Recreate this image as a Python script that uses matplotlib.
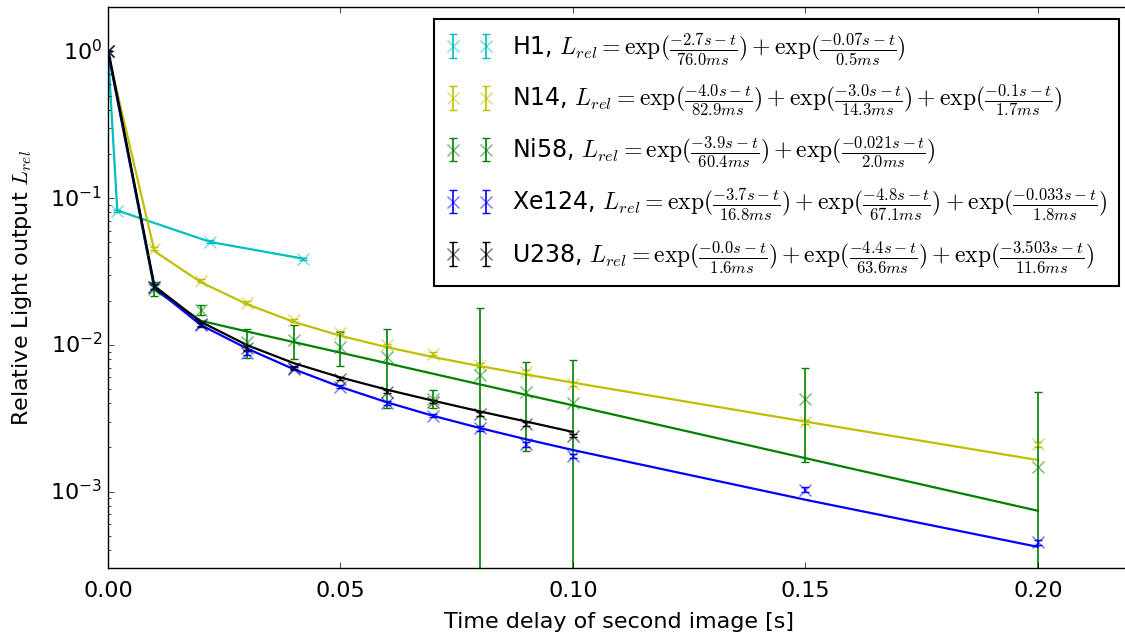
import matplotlib
matplotlib.use("Agg")
import matplotlib.pyplot as plt

plt.style.use("classic")
plt.rcParams["figure.facecolor"] = "white"
plt.rcParams["mathtext.fontset"] = "cm"
plt.rcParams["font.family"] = ["DejaVu Sans"]

# Measurement delays [s]
x_h1 = [0.0, 0.002, 0.022, 0.042]
x_all = [0.0, 0.01, 0.02, 0.03, 0.04, 0.05, 0.06, 0.07, 0.08, 0.09, 0.10, 0.15, 0.20]
x_u = [0.0, 0.01, 0.02, 0.03, 0.04, 0.05, 0.06, 0.07, 0.08, 0.09, 0.10]

# H1
y_h1 = [1.0, 0.082, 0.0505, 0.0385]
e_h1 = [0.0, 0.0015, 0.0010, 0.0008]
fit_h1 = [0.9996, 0.0825, 0.0503, 0.0387]

# N14
y_n14 = [1.0, 0.0453, 0.0274, 0.0194, 0.0147, 0.0121, 0.0100, 0.0087, 0.0073, 0.0065, 0.0054, 0.0030, 0.0021]
e_n14 = [0.0, 0.0010, 0.0006, 0.0004, 0.0003, 0.0003, 0.0002, 0.0002, 0.0002, 0.0002, 0.00015, 0.0001, 0.00008]
fit_n14 = [0.973, 0.0435, 0.0267, 0.01887, 0.01434, 0.01154, 0.00964, 0.00825, 0.00717, 0.00628, 0.00553, 0.00300, 0.00164]

# Ni58
y_ni58 = [1.0, 0.0242, 0.0174, 0.0105, 0.0108, 0.0097, 0.0083, 0.0043, 0.0062, 0.0048, 0.0040, 0.0043, 0.00147]
e_ni58 = [0.0, 0.0028, 0.0014, 0.0024, 0.0028, 0.0025, 0.0046, 0.0006, 0.0117, 0.0029, 0.0039, 0.0027, 0.0033]
fit_ni58 = [0.9994, 0.02375, 0.01458, 0.01232, 0.01044, 0.00885, 0.00750, 0.00635, 0.00538, 0.00456, 0.00387, 0.00169, 0.00074]

# Xe124
y_xe124 = [1.0, 0.0250, 0.0137, 0.0088, 0.0069, 0.0052, 0.0040, 0.0033, 0.0027, 0.0021, 0.00175, 0.00103, 0.00045]
e_xe124 = [0.0, 0.0008, 0.0004, 0.0003, 0.0002, 0.00015, 0.00012, 0.0001, 0.0001, 0.00008, 0.00006, 0.00004, 0.00002]
fit_xe124 = [1.0, 0.02447, 0.01364, 0.00941, 0.00682, 0.00517, 0.00406, 0.00328, 0.00271, 0.00227, 0.00192, 0.00088, 0.00042]

# U238
y_u238 = [1.0, 0.0250, 0.0138, 0.0095, 0.0070, 0.0059, 0.0048, 0.0041, 0.0034, 0.0029, 0.0024]
e_u238 = [0.0, 0.0008, 0.0004, 0.0003, 0.0002, 0.00015, 0.00012, 0.0001, 0.0001, 0.00008, 0.00006]
fit_u238 = [1.042, 0.02514, 0.01434, 0.00993, 0.00750, 0.00600, 0.00495, 0.00416, 0.00352, 0.00300, 0.00255]

labels = [
    r"H1, $L_{rel}=\exp(\frac{-2.7s-t}{76.0ms})+\exp(\frac{-0.07s-t}{0.5ms})$",
    r"N14, $L_{rel}=\exp(\frac{-4.0s-t}{82.9ms})+\exp(\frac{-3.0s-t}{14.3ms})+\exp(\frac{-0.1s-t}{1.7ms})$",
    r"Ni58, $L_{rel}=\exp(\frac{-3.9s-t}{60.4ms})+\exp(\frac{-0.021s-t}{2.0ms})$",
    r"Xe124, $L_{rel}=\exp(\frac{-3.7s-t}{16.8ms})+\exp(\frac{-4.8s-t}{67.1ms})+\exp(\frac{-0.033s-t}{1.8ms})$",
    r"U238, $L_{rel}=\exp(\frac{-0.0s-t}{1.6ms})+\exp(\frac{-4.4s-t}{63.6ms})+\exp(\frac{-3.503s-t}{11.6ms})$",
]

series = [
    (x_h1, y_h1, e_h1, fit_h1, "c"),
    (x_all, y_n14, e_n14, fit_n14, "y"),
    (x_all, y_ni58, e_ni58, fit_ni58, "g"),
    (x_all, y_xe124, e_xe124, fit_xe124, "b"),
    (x_u, y_u238, e_u238, fit_u238, "k"),
]

fig = plt.figure(figsize=(11.25, 6.39), dpi=100)
ax = fig.add_axes([0.096, 0.1106, 0.9093, 0.878])
ax.set_yscale("log")

for (xs, ys, es, fs, col), lab in zip(series, labels):
    cont = ax.errorbar(xs, ys, yerr=es, fmt="x", color=col, ecolor=col,
                       markersize=8, markeredgewidth=1.0, capsize=3,
                       elinewidth=1.2, label=lab)
    cont[0].set_alpha(0.55)
    ax.plot(xs, fs, "-", color=col, linewidth=1.6)

ax.set_xlim(0, 0.22)
ax.set_ylim(3e-4, 2.0)
ax.set_xticks([0.0, 0.05, 0.10, 0.15, 0.20])
ax.set_xticklabels(["0.00", "0.05", "0.10", "0.15", "0.20"])
ax.tick_params(labelsize=16)
ax.tick_params(axis="x", pad=9)
ax.set_xlabel("Time delay of second image [s]", fontsize=16, labelpad=8)
ax.set_ylabel(r"Relative Light output $L_{rel}$", fontsize=16, labelpad=12)

leg = ax.legend(loc="upper right", numpoints=2, fontsize=17, frameon=True,
                fancybox=False, labelspacing=0.7, borderpad=0.5)
leg.get_frame().set_linewidth(1.5)
leg.get_frame().set_edgecolor("black")

fig.savefig("out.png", dpi=100)
